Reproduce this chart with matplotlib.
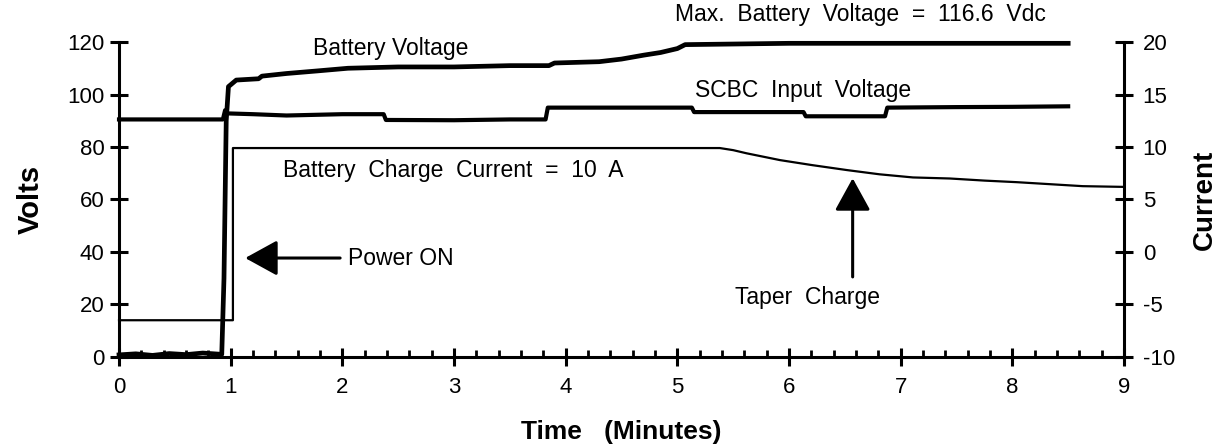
import matplotlib
matplotlib.use('Agg')
import matplotlib.pyplot as plt
from matplotlib.ticker import MultipleLocator

plt.rcParams['font.family'] = ['Liberation Sans', 'DejaVu Sans']
plt.rcParams['axes.unicode_minus'] = False

# battery voltage (V) vs time (min)
bv_time = [0.0, 0.15, 0.3, 0.45, 0.6, 0.75, 0.92, 0.94, 0.96, 0.98, 1.05, 1.25,
           1.28, 1.5, 1.78, 2.05, 2.5, 3.0, 3.5, 3.85, 3.9, 4.3, 4.5, 4.7, 4.85,
           5.0, 5.07, 6.0, 7.0, 8.0, 8.5]
bv_volts = [0.8, 1.2, 0.6, 1.3, 0.9, 1.5, 1.0, 30, 90, 103, 105.5, 106,
            107, 108, 109, 110, 110.5, 110.5, 111, 111, 112, 112.5, 113.5, 115, 116,
            117.5, 119, 119.5, 119.5, 119.5, 119.5]

# SCBC input voltage (V)
sc_time = [0.0, 0.93, 0.95, 0.97, 1.2, 1.5, 1.8, 2.0, 2.37, 2.39, 3.0, 3.5, 3.82,
           3.84, 4.5, 5.13, 5.15, 5.8, 6.13, 6.15, 6.5, 6.86, 6.88, 7.5, 8.0, 8.5]
sc_volts = [90.5, 90.5, 94, 92.8, 92.5, 92, 92.3, 92.5, 92.5, 90.3, 90.2, 90.5, 90.5,
            95, 95, 95, 93.3, 93.3, 93.3, 91.7, 91.7, 91.7, 95, 95.2, 95.3, 95.5]

# battery charge current (A), right axis
cur_time = [0.0, 1.02, 1.02, 5.38, 5.5, 5.62, 5.92, 6.21, 6.52, 6.81, 7.11, 7.44,
            7.75, 8.04, 8.35, 8.63, 9.0]
cur_amps = [-6.5, -6.5, 9.9, 9.9, 9.7, 9.4, 8.75, 8.27, 7.8, 7.4, 7.1, 7.0,
            6.8, 6.65, 6.45, 6.27, 6.2]

x_ticks = list(range(0, 10))
volt_ticks = [0, 20, 40, 60, 80, 100, 120]
amp_ticks = [-10, -5, 0, 5, 10, 15, 20]

fig = plt.figure(figsize=(12.22, 4.45), dpi=100)
ax = fig.add_axes([0.0974, 0.1978, 0.8224, 0.7078])
ax2 = ax.twinx()

ax2.plot(cur_time, cur_amps, color='black', lw=1.6, clip_on=False, zorder=2)
ax.plot(sc_time, sc_volts, color='black', lw=3.0, clip_on=False, zorder=3)
ax.plot(bv_time, bv_volts, color='black', lw=3.4, clip_on=False, zorder=4)

ax.set_xlim(0, 9)
ax.set_ylim(0, 120)
ax2.set_ylim(-10, 20)
ax.set_xticks(x_ticks)
ax.set_yticks(volt_ticks)
ax2.set_yticks(amp_ticks)
ax.xaxis.set_minor_locator(MultipleLocator(0.2))

for a in (ax, ax2):
    a.spines['top'].set_visible(False)
    for s in a.spines.values():
        s.set_linewidth(2.2)
ax.spines['right'].set_visible(False)
ax2.spines['left'].set_visible(False)
ax2.spines['bottom'].set_visible(False)

ax.tick_params(axis='both', which='major', direction='inout', length=13, width=2.2,
               labelsize=16, pad=4)
ax.tick_params(axis='x', which='minor', direction='in', length=5, width=2.0)
ax.tick_params(axis='x', which='major', pad=8)
ax2.tick_params(axis='y', which='major', direction='inout', length=13, width=2.2,
                labelsize=16, pad=7)

ax.set_ylabel('Volts', fontsize=21, fontweight='bold', labelpad=16)
ax2.set_ylabel('Current', fontsize=20, fontweight='bold', labelpad=12)
ax.set_xlabel('Time   (Minutes)', fontsize=19, fontweight='bold', labelpad=16)

txt = dict(fontsize=16.5, va='center', clip_on=False)
ax.text(1.74, 117.6, 'Battery Voltage', ha='left', **txt)
ax.text(4.98, 130.6, 'Max.  Battery  Voltage  =  116.6  Vdc', ha='left', **txt)
ax.text(5.16, 101.6, 'SCBC  Input  Voltage', ha='left', **txt)
ax.text(1.47, 71.2, 'Battery  Charge  Current  =  10  A', ha='left', **txt)
ax.text(2.05, 37.7, 'Power ON', ha='left', **txt)
ax.text(6.17, 22.8, 'Taper  Charge', ha='center', **txt)

arrow = dict(arrowstyle='-|>,head_length=1.0,head_width=0.55', mutation_scale=20,
             color='black', lw=2.2, shrinkA=0, shrinkB=0)
ax.annotate('', xy=(1.13, 37.7), xytext=(1.98, 37.7), arrowprops=arrow)
ax.annotate('', xy=(6.57, 68.1), xytext=(6.57, 30.5), arrowprops=arrow)

fig.savefig('out.png', dpi=100)
